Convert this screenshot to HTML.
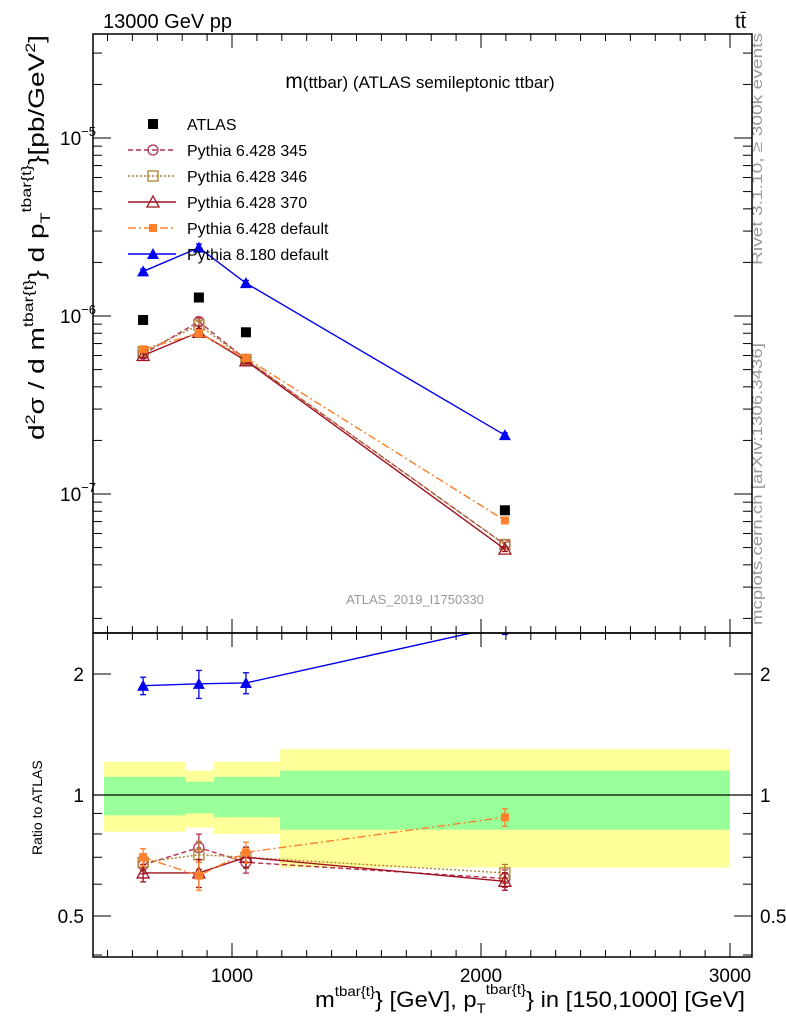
<!DOCTYPE html>
<html><head><meta charset="utf-8"><style>
body{margin:0;background:#fff;}
svg{font-family:"Liberation Sans",sans-serif;}
</style></head><body>
<svg id="c" width="786" height="1024" xmlns="http://www.w3.org/2000/svg">
<text x="103" y="28" font-size="20">13000 GeV pp</text>
<text x="735" y="28" font-size="20">tt̄</text>
<text x="420" y="88" font-size="17" text-anchor="middle"><tspan font-size="21">m</tspan>(ttbar) (ATLAS semileptonic ttbar)</text>
<text x="415" y="604" font-size="13" fill="#999" text-anchor="middle">ATLAS_2019_I1750330</text>
<text transform="translate(762,265) rotate(-90)" font-size="15" fill="#999" textLength="232" lengthAdjust="spacingAndGlyphs">Rivet 3.1.10, ≥ 300k events</text>
<text transform="translate(762,625) rotate(-90)" font-size="15" fill="#999" textLength="282" lengthAdjust="spacingAndGlyphs">mcplots.cern.ch [arXiv:1306.3436]</text>
<text transform="translate(44,440) rotate(-90)" font-size="22" textLength="405" lengthAdjust="spacingAndGlyphs">d<tspan font-size="14" dy="-9">2</tspan><tspan dy="9">σ / d m</tspan><tspan font-size="14" dy="-11">tbar{t}</tspan><tspan dy="11">} d p</tspan><tspan font-size="14" dy="6">T</tspan><tspan font-size="14" dy="-19">tbar{t}</tspan><tspan dy="13">}[pb/GeV</tspan><tspan font-size="14" dy="-9">2</tspan><tspan dy="9">]</tspan></text>
<text transform="translate(42,855) rotate(-90)" font-size="14">Ratio to ATLAS</text>
<text x="745" y="1007" font-size="22" text-anchor="end" textLength="430" lengthAdjust="spacingAndGlyphs">m<tspan font-size="14" dy="-11">tbar{t}</tspan><tspan dy="11">} [GeV], p</tspan><tspan font-size="14" dy="6">T</tspan><tspan font-size="14" dy="-19">tbar{t}</tspan><tspan dy="13">} in [150,1000] [GeV]</tspan></text>
<g id="g"></g>
</svg>
<script>
const xCats=[643,867,1056,2096];
const atlas=[0.95e-6,1.27e-6,0.81e-6,0.81e-7];
const p345=[0.61e-6,0.93e-6,0.57e-6,0.52e-7];
const p346=[0.63e-6,0.89e-6,0.57e-6,0.52e-7];
const p370=[0.60e-6,0.81e-6,0.56e-6,0.49e-7];
const pdef=[0.65e-6,0.80e-6,0.58e-6,0.71e-7];
const py8=[1.78e-6,2.42e-6,1.53e-6,2.14e-7];
const relErr=[0.05,0.08,0.06,0.05];
const r345=[0.67,0.74,0.68,0.62];
const r346=[0.68,0.71,0.70,0.64];
const r370=[0.64,0.64,0.70,0.61];
const rdef=[0.70,0.63,0.72,0.88];
const rpy8=[1.87,1.89,1.90,2.64];
const bandEdges=[486,815,928,1193,3000];
const greenUp=[1.11,1.08,1.11,1.15];
const greenDn=[0.89,0.90,0.88,0.82];
const yellowUp=[1.21,1.15,1.21,1.30];
const yellowDn=[0.81,0.83,0.80,0.66];
const xTicks=[1000,2000,3000];
const mainTicks=[1e-5,1e-6,1e-7];
const mainTickLabels=["10","10","10"],mainTickExp=["−5","−6","−7"];
const ratioTicks=[0.5,1,2];
const ratioTickLabels=["0.5","1","2"];

const L=93,R=752,T=34,M=633,B=957;
const X=v=>232+(v-1000)*0.249;
const Y=v=>316-(Math.log10(v)+6)*178;
const RY=v=>795-Math.log10(v)*402;
const NS="http://www.w3.org/2000/svg";
const g=document.getElementById('g');
function el(t,a,p){const e=document.createElementNS(NS,t);for(const k in a)e.setAttribute(k,a[k]);(p||g).appendChild(e);return e;}

for(let i=0;i<4;i++){
  const x0=X(bandEdges[i]),x1=X(bandEdges[i+1]);
  const y=el('rect',{x:x0,y:RY(yellowUp[i]),width:x1-x0,height:RY(yellowDn[i])-RY(yellowUp[i]),fill:'#ffff99'});
  
  
  const gr=el('rect',{x:x0,y:RY(greenUp[i]),width:x1-x0,height:RY(greenDn[i])-RY(greenUp[i]),fill:'#99ff99'});
  
  
}
const one=el('line',{x1:L,x2:R,y1:RY(1),y2:RY(1),stroke:'#000','stroke-width':1.2});



const defs=el('defs',{});
const cp=el('clipPath',{id:'rc'},defs);el('rect',{x:L,y:M,width:R-L,height:B-M},cp);
const cm=el('clipPath',{id:'mc'},defs);el('rect',{x:L,y:T,width:R-L,height:M-T},cm);

function marker(parent,type,x,y,col){
  let m;
  if(type=='sq')m=el('rect',{x:x-5,y:y-5,width:10,height:10,fill:col},parent);
  if(type=='sqs')m=el('rect',{x:x-4,y:y-4,width:8,height:8,fill:col},parent);
  if(type=='osq')m=el('rect',{x:x-5,y:y-5,width:10,height:10,fill:'none',stroke:col,'stroke-width':1.3},parent);
  if(type=='oc')m=el('circle',{cx:x,cy:y,r:5,fill:'none',stroke:col,'stroke-width':1.3},parent);
  if(type=='ot')m=el('path',{d:`M${x},${y-6}L${x+6},${y+5}L${x-6},${y+5}Z`,fill:'none',stroke:col,'stroke-width':1.3},parent);
  if(type=='t')m=el('path',{d:`M${x},${y-6}L${x+6},${y+5}L${x-6},${y+5}Z`,fill:col},parent);
  
  
}
function errbar(parent,x,y0,y1,col){
  el('line',{x1:x,x2:x,y1:y0,y2:y1,stroke:col,'stroke-width':1.3},parent);
  el('line',{x1:x-3,x2:x+3,y1:y0,y2:y0,stroke:col,'stroke-width':1.3},parent);
  el('line',{x1:x-3,x2:x+3,y1:y1,y2:y1,stroke:col,'stroke-width':1.3},parent);
}
const series=[
 {n:'pythia-6428-345',d:p345,r:r345,c:'#b03050',m:'oc',dash:'5,3'},
 {n:'pythia-6428-346',d:p346,r:r346,c:'#b08030',m:'osq',dash:'2,2'},
 {n:'pythia-6428-370',d:p370,r:r370,c:'#a01020',m:'ot',dash:''},
 {n:'pythia-6428-default',d:pdef,r:rdef,c:'#ff7f2a',m:'sqs',dash:'8,3,2,3'},
 {n:'pythia-8180-default',d:py8,r:rpy8,c:'#0000ee',m:'t',dash:''}];
series.forEach(s=>{
  const gm=el('g',{'clip-path':'url(#mc)'});
  
  
  el('polyline',{points:xCats.map((x,i)=>X(x)+','+Y(s.d[i])).join(' '),fill:'none',stroke:s.c,'stroke-width':1.4,'stroke-dasharray':s.dash},gm);
  xCats.forEach((x,i)=>{errbar(gm,X(x),Y(s.d[i]*(1+relErr[i]*0.6)),Y(s.d[i]*(1-relErr[i]*0.6)),s.c);marker(gm,s.m,X(x),Y(s.d[i]),s.c);});
  const gr=el('g',{'clip-path':'url(#rc)'});
  
  
  el('polyline',{points:xCats.map((x,i)=>X(x)+','+RY(s.r[i])).join(' '),fill:'none',stroke:s.c,'stroke-width':1.4,'stroke-dasharray':s.dash},gr);
  xCats.forEach((x,i)=>{errbar(gr,X(x),RY(s.r[i]*(1+relErr[i])),RY(s.r[i]*(1-relErr[i])),s.c);marker(gr,s.m,X(x),RY(s.r[i]),s.c);});
});
const ga=el('g',{});


xCats.forEach((x,i)=>marker(ga,'sq',X(x),Y(atlas[i]),'#000'));

el('rect',{x:L,y:T,width:R-L,height:M-T,fill:'none',stroke:'#000','stroke-width':1.5});
el('rect',{x:L,y:M,width:R-L,height:B-M,fill:'none',stroke:'#000','stroke-width':1.5});
for(let v=500;v<=3000;v+=100){
  const x=X(v);
  if(x<L||x>R)continue;
  const h=v%1000==0?14:7;
  el('line',{x1:x,x2:x,y1:B,y2:B-h,stroke:'#000'});
  el('line',{x1:x,x2:x,y1:M,y2:M+h,stroke:'#000'});
  el('line',{x1:x,x2:x,y1:M,y2:M-h,stroke:'#000'});
  el('line',{x1:x,x2:x,y1:T,y2:T+h,stroke:'#000'});
}
xTicks.forEach(v=>{const t=el('text',{x:X(v),y:982,'font-size':19,'text-anchor':'middle'});t.textContent=v;
  });
for(let e=-8;e<=-4;e++)for(let k=1;k<10;k++){
  const v=k*Math.pow(10,e),y=Y(v);if(y<T||y>M)continue;
  const h=k==1?18:9;
  el('line',{x1:L,x2:L+h,y1:y,y2:y,stroke:'#000'});
  el('line',{x1:R,x2:R-h,y1:y,y2:y,stroke:'#000'});
}
mainTicks.forEach((v,i)=>{const t=el('text',{x:60,y:Y(v)+7,'font-size':19});
  
  t.textContent=mainTickLabels[i];const s=el('tspan',{dy:-9,'font-size':13},t);s.textContent=mainTickExp[i];});
[0.4,0.5,0.6,0.7,0.8,0.9,1,2].forEach(v=>{const y=RY(v);const h=(v==0.5||v==1||v==2)?18:9;
  el('line',{x1:L,x2:L+h,y1:y,y2:y,stroke:'#000'});el('line',{x1:R,x2:R-h,y1:y,y2:y,stroke:'#000'});});
ratioTicks.forEach((v,i)=>{[84,760].forEach((x,j)=>{const t=el('text',{x:x,y:RY(v)+7,'font-size':19,'text-anchor':j?'start':'end'});
  t.textContent=ratioTickLabels[i];});});
const leg=[{n:'ATLAS',m:'sq',c:'#000',dash:null},...series.map(s=>({n:s.n,m:s.m,c:s.c,dash:s.dash}))];
const legNames=['ATLAS','Pythia 6.428 345','Pythia 6.428 346','Pythia 6.428 370','Pythia 6.428 default','Pythia 8.180 default'];
leg.forEach((s,i)=>{const y=124+i*26;
  const lg=el('g',{});
  if(s.dash!==null)el('line',{x1:128,x2:176,y1:y,y2:y,stroke:s.c,'stroke-width':1.4,'stroke-dasharray':s.dash},lg);
  marker(lg,s.m,153,y,s.c);
  const t=el('text',{x:187,y:y+6,'font-size':16},lg);t.textContent=legNames[i];});
</script>
</body></html>
